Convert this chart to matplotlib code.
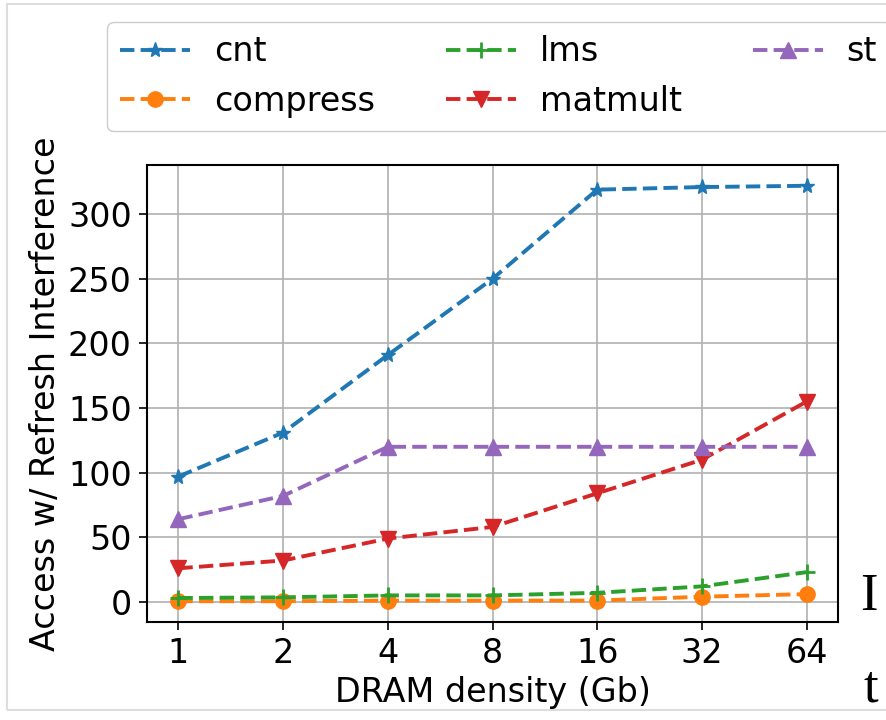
"""
Refresh interference vs. DRAM density, one dashed line per benchmark.
"""

import matplotlib

matplotlib.use("Agg")
import matplotlib.pyplot as plt  # noqa: E402
from matplotlib.patches import Rectangle  # noqa: E402

densities = ["1", "2", "4", "8", "16", "32", "64"]

cnt = [97, 131, 191, 250, 319, 321, 322]
compress = [0.5, 0.5, 1, 1, 1, 4, 6]
lms = [3, 3.5, 5, 5, 7, 12, 23]
matmult = [26, 32, 49, 58, 84, 110, 155]
st = [64, 82, 120, 120, 120, 120, 120]

series = [
    ("cnt", cnt, "*"),
    ("compress", compress, "o"),
    ("lms", lms, "+"),
    ("matmult", matmult, "v"),
    ("st", st, "^"),
]

plt.rcParams["font.size"] = 24

W, H = 886, 720
fig = plt.figure(figsize=(W / 100, H / 100), dpi=100)
ax = fig.add_axes([147 / W, 1 - 622 / H, (838 - 147) / W, (622 - 165) / H])

x = list(range(len(densities)))
for i, (name, vals, marker) in enumerate(series):
    ax.plot(x, vals, linestyle="--", marker=marker, color=f"C{i}",
            linewidth=2.8, markersize=11,
            markeredgewidth=2 if marker == "+" else 1, label=name)

ax.set_xticks(x)
ax.set_xticklabels(densities)
ax.set_yticks([0, 50, 100, 150, 200, 250, 300])
ax.tick_params(length=6, width=1.2, pad=5)
ax.grid(True, color="#b0b0b0", linewidth=1.2)
ax.set_xlabel("DRAM density (Gb)", labelpad=4)
ax.set_ylabel("Access w/ Refresh Interference", labelpad=4)
for sp in ax.spines.values():
    sp.set_linewidth(1.5)

fig.legend(loc="upper left", bbox_to_anchor=(107 / W, 1 - 22 / H), ncol=3,
           borderaxespad=0, columnspacing=2.15, handlelength=2.1,
           handletextpad=0.7, fontsize=24, framealpha=1, edgecolor="#cccccc")

# page frame and fragments of the surrounding paper text
fig.patches.append(Rectangle((7 / W, 1 - 710 / H), 1, (710 - 4) / H,
                             transform=fig.transFigure, fill=False,
                             edgecolor="#dddddd", linewidth=1.5))
fig.text(860 / W, 1 - 610 / H, "I", family="Liberation Serif", fontsize=38)
fig.text(864 / W, 1 - 702 / H, "t", family="Liberation Serif", fontsize=38)

fig.savefig("out.png", dpi=100)
